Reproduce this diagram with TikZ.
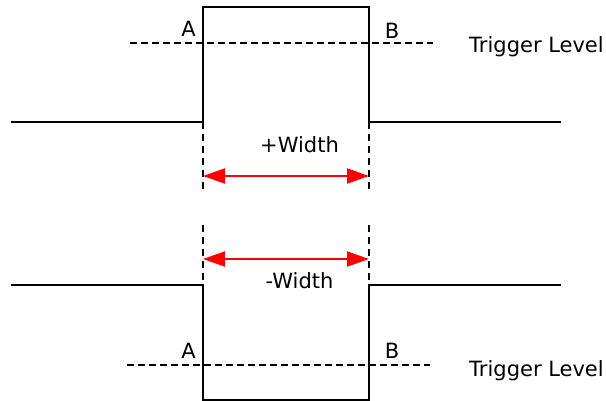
\documentclass[tikz,border=0pt]{standalone}
\usepackage{fontspec}
\setmainfont{DejaVu Sans}
\usepackage{xcolor}
\usetikzlibrary{positioning, arrows.meta}
\definecolor{spanred}{RGB}{255,0,0}

\begin{document}
\begin{tikzpicture}[x=1pt, y=-1pt,
  wave/.style={line width=1.8pt},
  level/.style={line width=2pt, dash pattern=on 7pt off 4pt},
  edge/.style={line width=2.6pt, dash pattern=on 7pt off 5pt},
  span/.style={{Triangle[length=22pt,width=15pt]}-{Triangle[length=22pt,width=15pt]}, line width=2.2pt, color=spanred},
  lbl/.style={font=\fontsize{21}{25}\selectfont, inner sep=0pt}]
  \useasboundingbox (0,0) rectangle (606,401);
  % positive pulse
  \coordinate (pstart) at (11,122);
  \coordinate (prise) at (203,122);
  \coordinate (ptopl) at (203,7);
  \coordinate (ptopr) at (369,7);
  \coordinate (pfall) at (369,122);
  \coordinate (pend) at (561,122);
  \draw[wave] (pstart) -- (prise) -- (ptopl) -- (ptopr) -- (pfall) -- (pend);
  \coordinate (plevl) at (130,43);
  \coordinate (plevr) at (433,43);
  \draw[level] (plevl) -- (plevr);
  \coordinate (pmarkl) at (203,193);
  \coordinate (pmarkr) at (369,193);
  \draw[edge] (prise) -- (pmarkl);
  \draw[edge] (pfall) -- (pmarkr);
  \coordinate (parrl) at (203,176);
  \coordinate (parrr) at (369,176);
  \draw[span] (parrl) -- (parrr);
  \node[lbl] (pA) at (188.5,29) {A};
  \node[lbl] (pB) at (392,31) {B};
  \node[lbl, anchor=base west] (ptrig) at (469,53) {Trigger Level};
  \node[lbl, anchor=base west] (pwidth) at (260,153) {+Width};
  % negative pulse
  \coordinate (nstart) at (11,285);
  \coordinate (nfall) at (203,285);
  \coordinate (nbotl) at (203,400);
  \coordinate (nbotr) at (369,400);
  \coordinate (nrise) at (369,285);
  \coordinate (nend) at (561,285);
  \draw[wave] (nstart) -- (nfall) -- (nbotl) -- (nbotr) -- (nrise) -- (nend);
  \coordinate (nlevl) at (127,365);
  \coordinate (nlevr) at (430,365);
  \draw[level] (nlevl) -- (nlevr);
  \coordinate (nmarkl) at (203,225);
  \coordinate (nmarkr) at (369,225);
  \draw[edge] (nmarkl) -- (nfall);
  \draw[edge] (nmarkr) -- (nrise);
  \coordinate (narrl) at (203,259);
  \coordinate (narrr) at (369,259);
  \draw[span] (narrl) -- (narrr);
  \node[lbl] (nA) at (188.5,350.5) {A};
  \node[lbl] (nB) at (392,350.5) {B};
  \node[lbl, anchor=base west] (ntrig) at (469,376) {Trigger Level};
  \node[lbl, anchor=base west] (nwidth) at (265.5,289) {-Width};
\end{tikzpicture}
\end{document}
